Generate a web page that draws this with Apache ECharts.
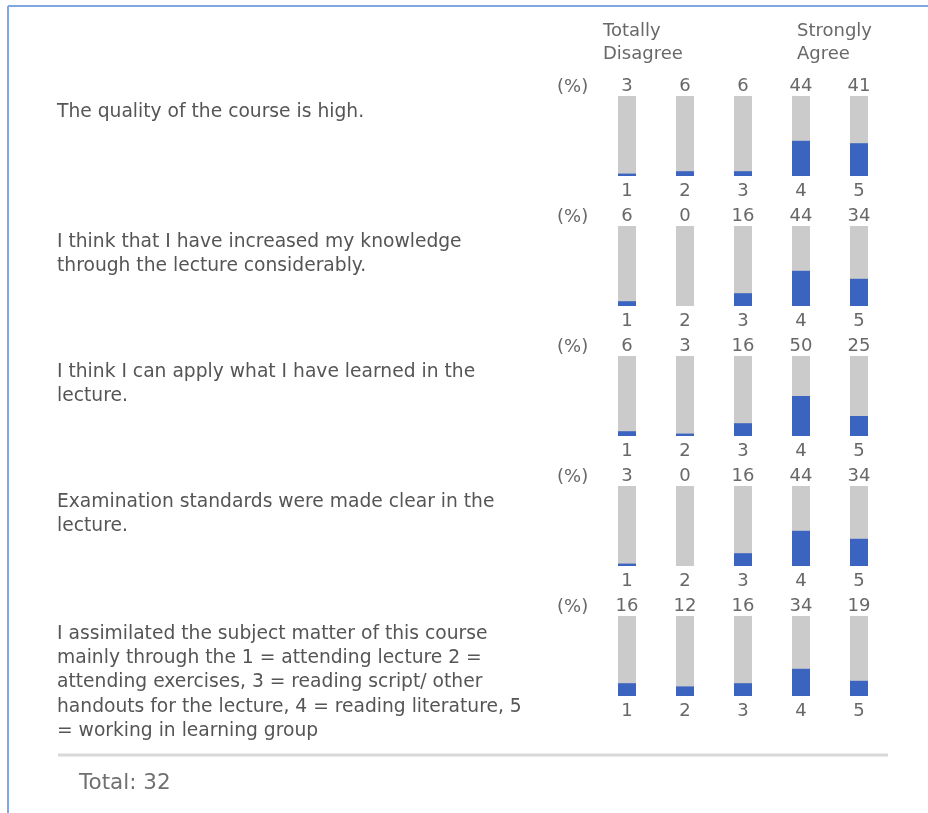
<!DOCTYPE html>
<html lang="en">
<head>
<meta charset="UTF-8">
<title>Course evaluation</title>
<script src="https://cdn.jsdelivr.net/npm/echarts@6/dist/echarts.min.js"></script>
<style>
	html, body { margin: 0; padding: 0; background: #fff; }
	#main { width: 928px; height: 813px; }
</style>
</head>
<body>
<div id="main"></div>
<script>
// questions (left column), line breaks as in the form
var questions = [
	'The quality of the course is high.',
	'I think that I have increased my knowledge\nthrough the lecture considerably.',
	'I think I can apply what I have learned in the\nlecture.',
	'Examination standards were made clear in the\nlecture.',
	'I assimilated the subject matter of this course\nmainly through the 1 = attending lecture 2 =\nattending exercises, 3 = reading script/ other\nhandouts for the lecture, 4 = reading literature, 5\n= working in learning group'
];
var scale = ['1', '2', '3', '4', '5'];
// answer shares in percent, one array per question
var percents = [
	[3, 6, 6, 44, 41],
	[6, 0, 16, 44, 34],
	[6, 3, 16, 50, 25],
	[3, 0, 16, 44, 34],
	[16, 12, 16, 34, 19]
];
var scaleEnds = ['Totally\nDisagree', 'Strongly\nAgree'];
var totalLabel = 'Total: 32';

var chart = echarts.init(document.getElementById('main'));

var rowTop = 96, rowStep = 130, barH = 80;
var gridLeft = 598, gridW = 290;
var labelFont = 'DejaVu Sans';
var grey = '#686868';

var grids = [], xAxes = [], yAxes = [], series = [], graphics = [];

percents.forEach(function (vals, i) {
	var top = rowTop + i * rowStep;
	grids.push({ left: gridLeft, top: top, width: gridW, height: barH });
	// bottom axis: scale 1..5
	xAxes.push({
		type: 'category', gridIndex: i, position: 'bottom', data: scale,
		axisLine: { show: false }, axisTick: { show: false }, splitLine: { show: false },
		axisLabel: { color: grey, fontSize: 18, fontFamily: labelFont, margin: 6 }
	});
	// top axis: percent numbers
	xAxes.push({
		type: 'category', gridIndex: i, position: 'top',
		data: vals.map(function (v) { return String(v); }),
		axisLine: { show: false }, axisTick: { show: false }, splitLine: { show: false },
		axisLabel: { color: grey, fontSize: 18, fontFamily: labelFont, margin: 1 }
	});
	yAxes.push({ type: 'value', gridIndex: i, min: 0, max: 100, show: false });
	series.push({
		type: 'bar', xAxisIndex: i * 2, yAxisIndex: i, data: vals,
		barWidth: 18, showBackground: true,
		backgroundStyle: { color: '#cbcbcb' },
		itemStyle: { color: '#3a64bf' },
		silent: true
	});
	graphics.push({
		type: 'text', x: 557, y: top - 9,
		style: { text: '(%)', fill: grey, fontSize: 18, fontFamily: labelFont, verticalAlign: 'middle', textVerticalAlign: 'middle' }
	});
	graphics.push({
		type: 'text', x: 57, y: top + 4 + (i === 4 ? 2 : 0),
		style: { text: questions[i], fill: '#555555', fontSize: 18.7, fontFamily: labelFont, lineHeight: 24.2, verticalAlign: 'top', textVerticalAlign: 'top' }
	});
});

// scale end captions
graphics.push({
	type: 'text', x: 603, y: 20,
	style: { text: scaleEnds[0], fill: grey, fontSize: 18, fontFamily: labelFont, lineHeight: 23 }
});
graphics.push({
	type: 'text', x: 797, y: 20,
	style: { text: scaleEnds[1], fill: grey, fontSize: 18, fontFamily: labelFont, lineHeight: 23 }
});
// frame, separator, total
graphics.push({ type: 'line', shape: { x1: 8, y1: 6, x2: 928, y2: 6 }, style: { stroke: '#7ea8df', lineWidth: 2 } });
graphics.push({ type: 'line', shape: { x1: 8, y1: 6, x2: 8, y2: 813 }, style: { stroke: '#7ea8df', lineWidth: 2 } });
graphics.push({ type: 'line', shape: { x1: 58, y1: 755, x2: 888, y2: 755 }, style: { stroke: '#d8d8d8', lineWidth: 3 } });
graphics.push({
	type: 'text', x: 79, y: 783,
	style: { text: totalLabel, fill: '#707070', fontSize: 21.5, fontFamily: labelFont, verticalAlign: 'middle', textVerticalAlign: 'middle' }
});

chart.setOption({
	animation: false,
	grid: grids,
	xAxis: xAxes,
	yAxis: yAxes,
	series: series,
	graphic: { elements: graphics }
});
</script>
</body>
</html>
